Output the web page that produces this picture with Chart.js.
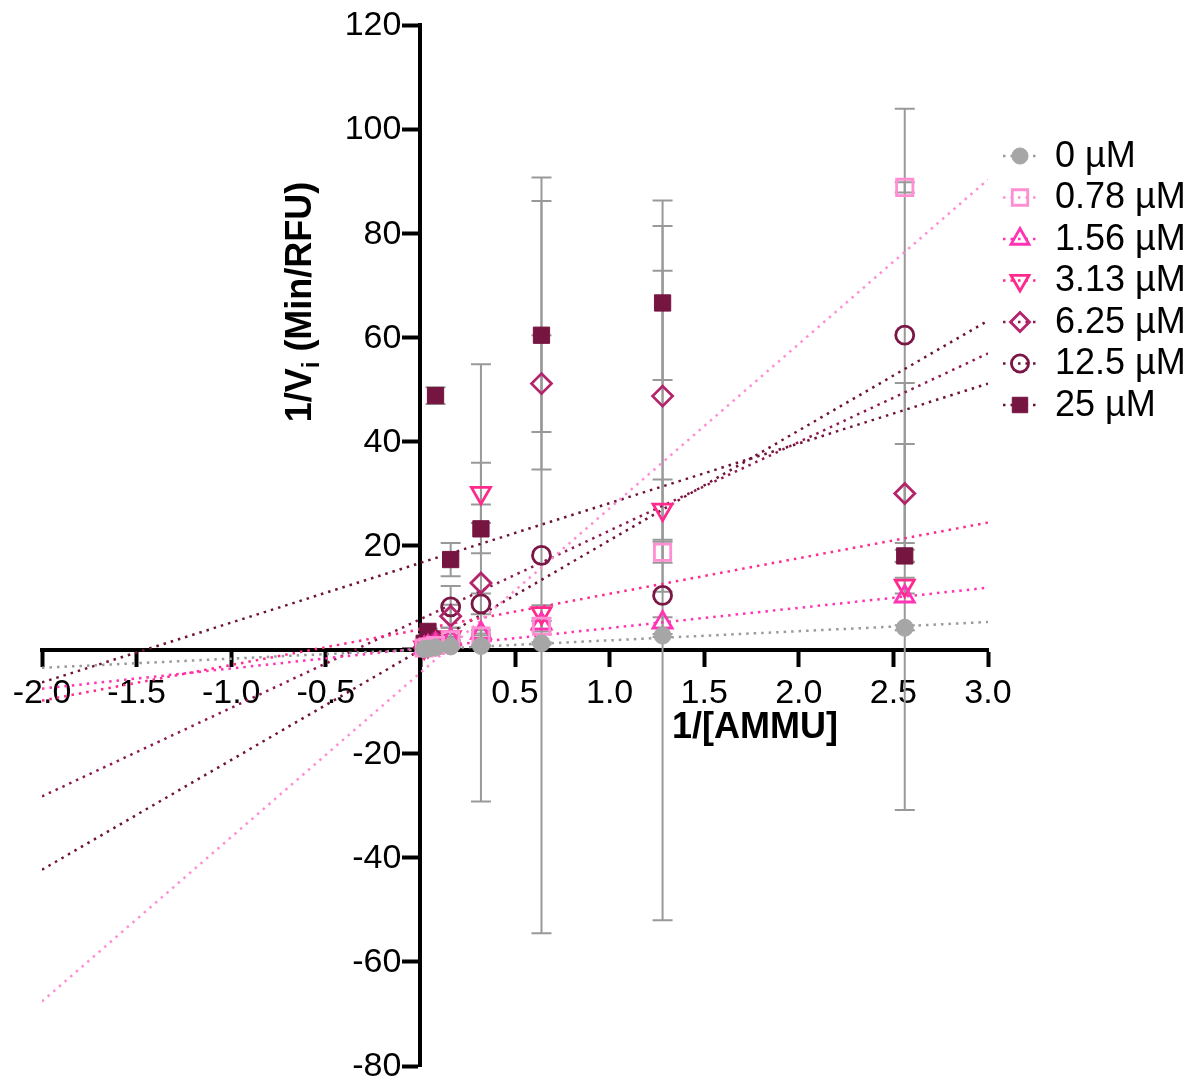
<!DOCTYPE html>
<html>
<head>
<meta charset="utf-8">
<script src="https://cdn.jsdelivr.net/npm/chart.js@4.4.0/dist/chart.umd.min.js"></script>
<style>
  html, body { margin: 0; padding: 0; background: #fff; }
  #wrap { width: 1199px; height: 1083px; }
</style>
</head>
<body>
<div id="wrap"><canvas id="chart" width="1199" height="1083"></canvas></div>
<script>
// 1/[AMMU] values
const xValues = [2.56, 1.28, 0.64, 0.32, 0.16, 0.08, 0.04, 0.02];

const seriesNames = ['0 µM', '0.78 µM', '1.56 µM', '3.13 µM', '6.25 µM', '12.5 µM', '25 µM'];

// 1/Vi means
const y0   = [4.2, 2.7, 1.2, 0.7, 0.6, 0.4, 0.2, 0.1];
const y078 = [88.8, 18.7, 4.5, 2.6, 1.9, 0.8, 0.5, 0.3];
const y156 = [10.2, 5.2, 5.0, 3.2, 2.0, 1.0, 0.6, 0.3];
const y313 = [12.3, 26.9, 7.0, 30.1, 2.4, 1.2, 0.7, 0.4];
const y625 = [30.0, 48.7, 51.1, 12.8, 6.4, 1.5, 0.8, 0.4];
const y125 = [60.4, 10.4, 18.1, 8.8, 8.2, 1.8, 1.0, 0.5];
const y25  = [18.0, 66.6, 60.4, 23.2, 17.3, 48.8, 3.5, 1.2];

// SD
const sd0   = [0.5, 0.3, 0.2, 0.1, 0.1, 0, 0, 0];
const sd078 = [1, 2, 1, 0.5, 0.5, 0.2, 0.1, 0.1];
const sd156 = [41, 1, 1, 0.5, 0.4, 0.2, 0.1, 0.1];
const sd313 = [1.5, 5.8, 1.5, 5.8, 0.5, 0.3, 0.1, 0.1];
const sd625 = [9.5, 37.6, 9.3, 42, 2.2, 0.5, 0.2, 0.1];
const sd125 = [43.5, 62.4, 72.6, 2, 4, 0.5, 0.2, 0.1];
const sd25  = [1.2, 14.8, 25.8, 4.7, 3.2, 1.6, 0.5, 0.2];

// linear fit lines, read at the ends of the x range
const fitX   = [-2, 3];
const fit0   = [-3.5, 5.3];
const fit078 = [-67.6, 90.3];
const fit156 = [-7.5, 11.9];
const fit313 = [-9.8, 24.4];
const fit625 = [-28.2, 56.9];
const fit125 = [-42.3, 63.2];
const fit25  = [-6.3, 51.1];

const xTicks = [-2, -1.5, -1, -0.5, 0, 0.5, 1, 1.5, 2, 2.5, 3];
const yTicks = [-80, -60, -40, -20, 0, 20, 40, 60, 80, 100, 120];

const FONT = '"Liberation Sans", Arial, sans-serif';

const series = [
  { y: y0,   sd: sd0,   fit: fit0,   color: '#a6a6a6', lineColor: '#9a9a9a', style: 'circle',   r: 8.5,  rot: 0,   filled: true },
  { y: y078, sd: sd078, fit: fit078, color: '#ff8fd2', lineColor: '#ff8fd2', style: 'rect',     r: 11.5, rot: 0,   filled: false },
  { y: y156, sd: sd156, fit: fit156, color: '#ff33b4', lineColor: '#ff33b4', style: 'triangle', r: 11,   rot: 0,   filled: false },
  { y: y313, sd: sd313, fit: fit313, color: '#ff2a8c', lineColor: '#ff2a8c', style: 'triangle', r: 11,   rot: 180, filled: false },
  { y: y625, sd: sd625, fit: fit625, color: '#b4246a', lineColor: '#8c1a50', style: 'rectRot',  r: 10,   rot: 0,   filled: false },
  { y: y125, sd: sd125, fit: fit125, color: '#7a1745', lineColor: '#6e1238', style: 'circle',   r: 9,    rot: 0,   filled: false },
  { y: y25,  sd: sd25,  fit: fit25,  color: '#751540', lineColor: '#6e1238', style: 'rect',     r: 11.5, rot: 0,   filled: true }
];

const scatterSets = series.map((s, k) => ({
  type: 'scatter',
  label: seriesNames[k],
  data: xValues.map((x, i) => ({ x, y: s.y[i] })),
  pointStyle: s.style,
  pointRadius: s.r,
  pointRotation: s.rot,
  pointBorderWidth: s.filled ? 1 : 2.8,
  pointBorderColor: s.color,
  pointBackgroundColor: s.filled ? s.color : 'rgba(0,0,0,0)',
  showLine: false
}));

const fitSets = series.map((s, k) => ({
  type: 'line',
  label: seriesNames[k] + ' fit',
  data: fitX.map((x, i) => ({ x, y: s.fit[i] })),
  borderColor: s.lineColor,
  borderWidth: 2.5,
  borderDash: [2.5, 5],
  pointRadius: 0,
  fill: false
}));

const errorBars = {
  id: 'errorBars',
  beforeDatasetsDraw(chart) {
    const { ctx, chartArea } = chart;
    const xs = chart.scales.x, ys = chart.scales.y;
    ctx.save();
    ctx.beginPath();
    ctx.rect(chartArea.left, chartArea.top, chartArea.width, chartArea.height);
    ctx.clip();
    ctx.strokeStyle = '#999999';
    ctx.lineWidth = 2;
    series.forEach(s => {
      s.sd.forEach((e, i) => {
        if (!e) return;
        const px = xs.getPixelForValue(xValues[i]);
        const top = ys.getPixelForValue(s.y[i] + e);
        const bot = ys.getPixelForValue(s.y[i] - e);
        ctx.beginPath();
        ctx.moveTo(px, top); ctx.lineTo(px, bot);
        ctx.moveTo(px - 10, top); ctx.lineTo(px + 10, top);
        ctx.moveTo(px - 10, bot); ctx.lineTo(px + 10, bot);
        ctx.stroke();
      });
    });
    ctx.restore();
  }
};

const extras = {
  id: 'extras',
  afterDraw(chart) {
    const ctx = chart.ctx;
    const xs = chart.scales.x, ys = chart.scales.y;
    ctx.save();
    ctx.fillStyle = '#000';

    // y tick labels, left of the tick marks
    ctx.font = '34px ' + FONT;
    ctx.textAlign = 'right';
    ctx.textBaseline = 'middle';
    const axisX = xs.getPixelForValue(0);
    yTicks.forEach(v => {
      if (v === 0) return;
      ctx.fillText(String(v), axisX - 19, ys.getPixelForValue(v) + 1);
    });

    // axis titles
    ctx.font = 'bold 36px ' + FONT;
    ctx.textAlign = 'center';
    ctx.fillText('1/[AMMU]', 755, 728);

    ctx.translate(298, 302);
    ctx.rotate(-Math.PI / 2);
    const big = 'bold 36px ' + FONT;
    const small = 'bold 24px ' + FONT;
    ctx.font = big;
    const w1 = ctx.measureText('1/V').width;
    const w3 = ctx.measureText(' (Min/RFU)').width;
    ctx.font = small;
    const w2 = ctx.measureText('i').width;
    const x0 = -(w1 + w2 + w3) / 2;
    ctx.textAlign = 'left';
    ctx.textBaseline = 'alphabetic';
    ctx.font = big;
    ctx.fillText('1/V', x0, 13);
    ctx.font = small;
    ctx.fillText('i', x0 + w1, 21);
    ctx.font = big;
    ctx.fillText(' (Min/RFU)', x0 + w1 + w2, 13);
    ctx.restore();

    // legend
    ctx.save();
    series.forEach((s, k) => {
      const ly = 156 + k * 41.5;
      ctx.strokeStyle = s.lineColor;
      ctx.lineWidth = 2.5;
      ctx.setLineDash([2.5, 5]);
      ctx.beginPath();
      ctx.moveTo(1003, ly); ctx.lineTo(1039, ly);
      ctx.stroke();
      ctx.setLineDash([]);
      ctx.strokeStyle = s.color;
      ctx.fillStyle = s.filled ? s.color : 'rgba(0,0,0,0)';
      ctx.lineWidth = s.filled ? 1 : 2.8;
      Chart.helpers.drawPoint(ctx, { pointStyle: s.style, radius: s.r * 0.95, rotation: s.rot, borderWidth: ctx.lineWidth }, 1020, ly);
      ctx.fillStyle = '#000';
      ctx.font = '36px ' + FONT;
      ctx.textAlign = 'left';
      ctx.textBaseline = 'middle';
      ctx.fillText(seriesNames[k], 1055, ly + 1);
    });
    ctx.restore();
  }
};

new Chart(document.getElementById('chart'), {
  data: { datasets: [...scatterSets, ...fitSets] },
  options: {
    responsive: false,
    animation: false,
    layout: { padding: { left: 42, right: 211, top: 25, bottom: 17 } },
    plugins: { legend: { display: false }, tooltip: { enabled: false } },
    scales: {
      x: {
        type: 'linear',
        min: -2, max: 3,
        position: { y: 0 },
        afterBuildTicks: axis => { axis.ticks = xTicks.map(v => ({ value: v })); },
        ticks: {
          callback: v => v === 0 ? '' : v.toFixed(1),
          color: '#000',
          font: { size: 34, family: FONT },
          padding: 9,
          maxRotation: 0,
          autoSkip: false
        },
        grid: { drawOnChartArea: false, tickLength: 15, tickWidth: 4, tickColor: '#000' },
        border: { color: '#000', width: 4 }
      },
      y: {
        type: 'linear',
        min: -80, max: 120,
        position: { x: 0 },
        afterBuildTicks: axis => { axis.ticks = yTicks.map(v => ({ value: v })); },
        ticks: { display: false },
        grid: { drawOnChartArea: false, tickLength: 16, tickWidth: 4, tickColor: '#000' },
        border: { color: '#000', width: 4 }
      }
    }
  },
  plugins: [errorBars, extras]
});
</script>
</body>
</html>
